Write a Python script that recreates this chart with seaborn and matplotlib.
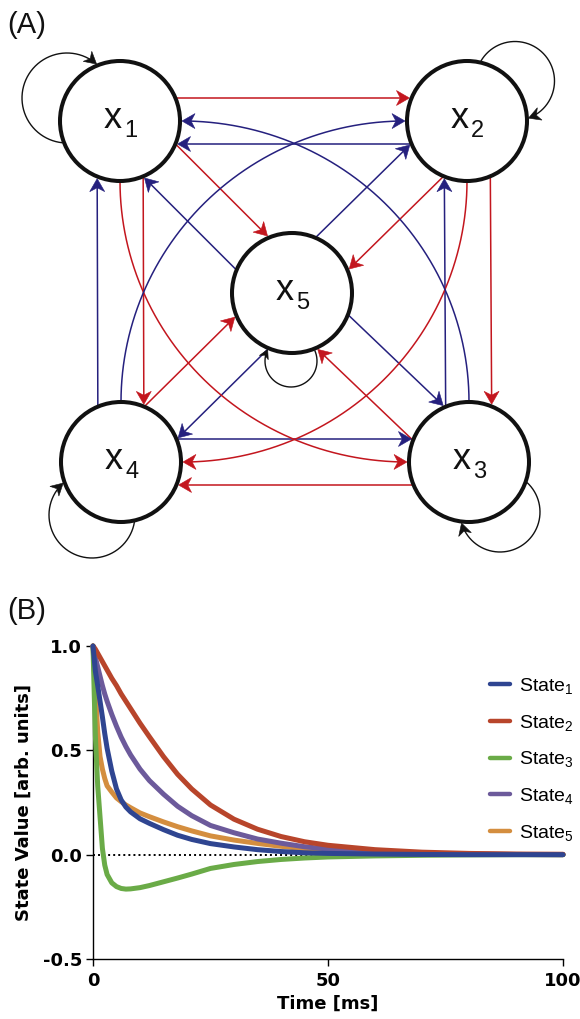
import numpy as np
import pandas as pd
import matplotlib
matplotlib.use("Agg")
import matplotlib.pyplot as plt
from matplotlib.patches import Circle, Polygon
import seaborn as sns

# ---------------- Panel B data ----------------
time_ms = [0, 0.25, 0.5, 1, 1.5, 2, 2.5, 3, 4, 5, 6, 7, 8, 10, 12, 15, 18, 21,
           25, 30, 35, 40, 45, 50, 60, 70, 80, 90, 100]
state1 = [1.0, 0.94, 0.88, 0.81, 0.735, 0.66, 0.58, 0.51, 0.40, 0.315, 0.262, 0.228,
          0.205, 0.172, 0.15, 0.12, 0.093, 0.073, 0.053, 0.037, 0.024, 0.015, 0.009,
          0.006, 0.003, 0.001, 0.0, 0.0, 0.0]
state2 = [1.0, 0.993, 0.985, 0.965, 0.945, 0.925, 0.905, 0.885, 0.845, 0.81, 0.77,
          0.735, 0.70, 0.63, 0.565, 0.47, 0.385, 0.315, 0.238, 0.17, 0.122, 0.087,
          0.062, 0.045, 0.024, 0.012, 0.006, 0.003, 0.002]
state3 = [1.0, 0.78, 0.57, 0.33, 0.18, 0.03, -0.05, -0.095, -0.135, -0.153, -0.162,
          -0.165, -0.164, -0.158, -0.148, -0.13, -0.112, -0.093, -0.066, -0.047,
          -0.033, -0.023, -0.016, -0.011, -0.006, -0.003, -0.001, 0.0, 0.0]
state4 = [1.0, 0.97, 0.945, 0.90, 0.855, 0.81, 0.77, 0.735, 0.672, 0.615, 0.563,
          0.518, 0.478, 0.41, 0.355, 0.29, 0.232, 0.187, 0.14, 0.105, 0.075, 0.055,
          0.038, 0.027, 0.013, 0.006, 0.003, 0.001, 0.0]
state5 = [1.0, 0.89, 0.79, 0.59, 0.47, 0.41, 0.365, 0.33, 0.30, 0.272, 0.254, 0.238,
          0.225, 0.20, 0.182, 0.157, 0.134, 0.114, 0.09, 0.07, 0.054, 0.04, 0.028,
          0.02, 0.01, 0.005, 0.002, 0.001, 0.0]
series_labels = ["State$_1$", "State$_2$", "State$_3$", "State$_4$", "State$_5$"]
series_colors = ["#2f4591", "#b8452b", "#6aab47", "#6c5a9b", "#d48e3f"]
x_ticks = [0, 50, 100]
x_tick_labels = ["0", "50", "100"]
y_ticks = [-0.5, 0.0, 0.5, 1.0]
y_tick_labels = ["-0.5", "0.0", "0.5", "1.0"]

# ---------------- Panel A network description ----------------
node_ids = [1, 2, 3, 4, 5]
node_labels = ["1", "2", "3", "4", "5"]
straight_edges = [(1, 2, "r"), (2, 1, "b"), (1, 4, "r"), (4, 1, "b"),
                  (2, 3, "r"), (3, 2, "b"), (4, 3, "b"), (3, 4, "r"),
                  (1, 5, "r"), (5, 1, "b"), (2, 5, "r"), (5, 2, "b"),
                  (5, 3, "b"), (3, 5, "r"), (4, 5, "r"), (5, 4, "b")]
arc_edges = [(1, 3, "r"), (2, 4, "r"), (4, 2, "b"), (3, 1, "b")]

# layout (pixel space of the figure)
node_pos = {1: (120, 121), 2: (467, 121), 3: (469, 462), 4: (121, 462), 5: (292, 293)}
loop_geom = {1: ((67, 98), 45), 2: ((515, 81), 39.5), 3: ((500, 512), 40),
             4: ((92, 515), 43), 5: ((291, 361), 26)}
R = 60
EDGE_COL = {"r": "#c3161e", "b": "#25207e"}
INK = "#111111"

sns.set_style("ticks")
plt.rcParams["font.family"] = ["Liberation Sans", "DejaVu Sans"]
plt.rcParams["mathtext.default"] = "regular"
plt.rcParams["text.color"] = "black"
plt.rcParams["axes.labelcolor"] = "black"

W_PX, H_PX = 580, 1019
fig = plt.figure(figsize=(W_PX / 100, H_PX / 100), dpi=100)
fig.patch.set_facecolor("white")

# ---------------- Panel A ----------------
axn = fig.add_axes([0, 0, 1, 1])
axn.set_xlim(0, W_PX)
axn.set_ylim(H_PX, 0)
axn.axis("off")
axn.patch.set_visible(False)


def arrowhead(ax, tip, direction, color, L=13.0, Wd=7.5, notch=0.3, z=6):
    d = np.asarray(direction, float)
    d = d / np.linalg.norm(d)
    n = np.array([-d[1], d[0]])
    tip = np.asarray(tip, float)
    back = tip - L * d
    pts = [tip, back + Wd * n, tip - (1 - notch) * L * d, back - Wd * n]
    ax.add_patch(Polygon(pts, closed=True, fc=color, ec=color, lw=0.4, zorder=z))


def draw_path(ax, pts, color, lw, L, Wd, z=3):
    pts = np.asarray(pts, float)
    tip = pts[-1]
    d = pts[-1] - pts[-3]
    d = d / np.linalg.norm(d)
    dist = np.linalg.norm(pts - tip, axis=1)
    keep = pts[dist > 0.6 * L]
    keep = np.vstack([keep, tip - 0.6 * L * d])
    ax.plot(keep[:, 0], keep[:, 1], color=color, lw=lw, solid_capstyle="butt", zorder=z)
    arrowhead(ax, tip, d, color, L=L, Wd=Wd, z=z + 3)


RT = R + 2.0
OFF = -23.0
for s, t, c in straight_edges:
    ps = np.array(node_pos[s], float)
    pt = np.array(node_pos[t], float)
    u = (pt - ps) / np.linalg.norm(pt - ps)
    n = np.array([-u[1], u[0]])
    a = ps + np.sqrt(R ** 2 - OFF ** 2) * u + OFF * n
    b = pt - np.sqrt(RT ** 2 - OFF ** 2) * u + OFF * n
    seg = np.linspace(0, 1, 50)[:, None]
    draw_path(axn, a + seg * (b - a), EDGE_COL[c], 1.1, 13, 7.5)

for s, t, c in arc_edges:
    ps = np.array(node_pos[s], float)
    pt = np.array(node_pos[t], float)
    A = ps + np.array([0, np.sign(pt[1] - ps[1]) * R])
    B = pt + np.array([np.sign(ps[0] - pt[0]) * RT, 0])
    C = np.array([B[0], A[1]])
    phi = np.linspace(0, np.pi / 2, 300)
    pts = np.column_stack([C[0] + (A[0] - B[0]) * np.cos(phi),
                           C[1] + (B[1] - A[1]) * np.sin(phi)])
    draw_path(axn, pts, EDGE_COL[c], 1.1, 13, 7.5)

for k in node_ids:
    (cx, cy), r = loop_geom[k]
    nx, ny = node_pos[k]
    dd = np.hypot(nx - cx, ny - cy)
    Rn = R + 1.5
    g = np.arctan2(ny - cy, nx - cx)
    dl = np.arccos((r ** 2 + dd ** 2 - Rn ** 2) / (2 * r * dd))
    th = np.linspace(g + dl, g + 2 * np.pi - dl, 300)
    pts = np.column_stack([cx + r * np.cos(th), cy + r * np.sin(th)])
    L = 9 if k == 5 else 12
    draw_path(axn, pts, INK, 1.0, L, L * 0.55)

for k, lab in zip(node_ids, node_labels):
    cx, cy = node_pos[k]
    axn.add_patch(Circle((cx, cy), R, fc="white", ec=INK, lw=2.9, zorder=10))
    axn.text(cx - 7, cy + 7, "x", fontsize=26, ha="center", va="baseline",
             color=INK, zorder=11)
    axn.text(cx + 4, cy + 16, lab, fontsize=17, ha="left", va="baseline",
             color=INK, zorder=11)

axn.text(7, 33, "(A)", fontsize=21, ha="left", va="baseline", color=INK)
axn.text(7, 619, "(B)", fontsize=21, ha="left", va="baseline", color=INK)

# ---------------- Panel B ----------------
L0, B0, R0, T0 = 93, 959, 563, 646
ax = fig.add_axes([L0 / W_PX, 1 - B0 / H_PX, (R0 - L0) / W_PX, (B0 - T0) / H_PX])
ax.patch.set_visible(False)
ax.axhline(0, color="black", lw=1.4, ls=(0, (1, 1.6)), zorder=1)

all_states = [state1, state2, state3, state4, state5]
for i in [4, 3, 2, 1, 0]:
    sns.lineplot(x=time_ms, y=all_states[i], ax=ax, color=series_colors[i],
                 linewidth=3.6, label=series_labels[i], clip_on=False,
                 solid_capstyle="round", solid_joinstyle="round", zorder=3 + (5 - i))

ax.set_xlim(0, 100)
ax.set_ylim(-0.5, 1.0)
sns.despine(ax=ax)
for sp in ("left", "bottom"):
    ax.spines[sp].set_linewidth(1.0)
    ax.spines[sp].set_color("black")
ax.set_xticks(x_ticks)
ax.set_xticklabels(x_tick_labels)
ax.set_yticks(y_ticks)
ax.set_yticklabels(y_tick_labels)
bold = dict(family="DejaVu Sans", weight="bold", size=13)
for lab in ax.get_xticklabels() + ax.get_yticklabels():
    lab.set_fontproperties(matplotlib.font_manager.FontProperties(**bold))
    lab.set_color("black")
ax.tick_params(axis="both", direction="out", length=5, width=1.0, color="black",
               labelcolor="black")
ax.tick_params(axis="x", pad=4)
ax.tick_params(axis="y", pad=3)
ax.set_xlabel("Time [ms]", fontdict=bold, labelpad=4, color="black")
ax.set_ylabel("State Value [arb. units]", fontdict=bold, labelpad=7, color="black")

h, l = ax.get_legend_handles_labels()
order = [l.index(s) for s in series_labels]
leg = ax.legend([h[o] for o in order], [l[o] for o in order], loc="upper left",
                bbox_to_anchor=(490 / W_PX, 1 - 676 / H_PX),
                bbox_transform=fig.transFigure, frameon=False, fontsize=14,
                handlelength=1.05, handletextpad=0.42, labelspacing=0.86,
                borderpad=0, borderaxespad=0)
for text in leg.get_texts():
    text.set_color("black")
for line in leg.get_lines():
    line.set_linewidth(3.2)
    line.set_solid_capstyle("round")

fig.savefig("out.png", dpi=100, facecolor="white")
